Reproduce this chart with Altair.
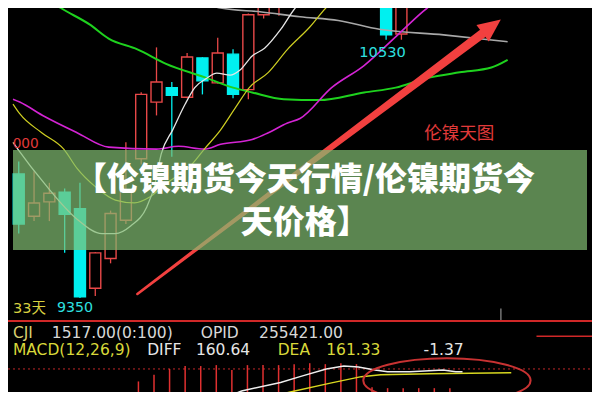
import altair as alt
import pandas as pd

# ---------------- data ----------------
# candles (index, open, close, high, low)
c_idx = list(range(26))
c_open = [9916, 9723, 9789, 9833, 9758, 9394, 9530, 9705, 9986, 10245, 10311, 10267, 10447,
          10333, 10464, 10302, 10644, 10700, 10720, 10830, 10760, 10900, 10820, 10860, 10750, 10556]
c_close = [9688, 9784, 9828, 9732, 9355, 9556, 9736, 9842, 10280, 10337, 10276, 10451, 10342,
           10469, 10280, 10644, 10760, 10800, 10830, 10760, 10900, 10820, 10860, 10750, 10552, 10700]
c_high = [9973, 9929, 9876, 9850, 9876, 9560, 9749, 10061, 10290, 10495, 10337, 10469, 10450,
          10539, 10486, 10650, 10790, 10830, 10860, 10870, 10920, 10940, 10900, 10890, 10780, 10730]
c_low = [9644, 9701, 9701, 9556, 9350, 9359, 9508, 9688, 9960, 10184, 9995, 10262, 10280,
         10330, 10263, 10258, 10627, 10640, 10700, 10730, 10740, 10790, 10780, 10700, 10530, 10530]

# moving average lines (index, price)
gray_i = [10.875, 13.19, 15.875, 18.375, 20.875, 23.56, 27.75, 31.94]
gray_p = [10719, 10675, 10657, 10635, 10618, 10578, 10552, 10521]
green_i = [1.81, 2.75, 4.625, 5.875, 7.75, 9.625, 12.125, 14, 15.25, 17.31, 19.625, 22.56, 24.625,
           26.69, 28.81, 30.875, 31.94]
green_p = [10719, 10675, 10600, 10535, 10486, 10420, 10359, 10311, 10289, 10258, 10254, 10289,
           10311, 10355, 10381, 10403, 10438]
white_i = [-0.375, -0.0625, 1.6875, 3.81, 5.44, 6.31, 7.31, 8.375, 8.875, 9.31, 10.06, 10.875,
           11.5, 12.31, 12.94, 13.81, 14.44, 15.25, 16.06, 17.125, 18.06, 18.69]
white_p = [10061, 10030, 9872, 9710, 9644, 9644, 9679, 9767, 9863, 10008, 10118, 10236, 10311,
           10355, 10377, 10368, 10390, 10456, 10491, 10578, 10675, 10719]
yellow_i = [-0.375, 0.0625, 1.5, 2.94, 3.81, 5.06, 6.31, 7.56, 8.56, 9.625, 11.31, 12.125, 13.19,
            14.19, 15.06, 16.31, 17.56, 19, 20.06, 20.56]
yellow_p = [10236, 10192, 10105, 10030, 9942, 9855, 9797, 9784, 9811, 9872, 9960, 10030, 10118,
            10223, 10311, 10381, 10486, 10587, 10675, 10710]
mag_i = [-0.375, 0.0625, 1.6875, 3.81, 5.875, 9, 10.44, 12.125, 13.19, 15.25, 16.31, 17.56, 18.375,
         20.44, 22.56, 24.625, 26.69, 27.125]
mag_p = [10258, 10245, 10179, 10105, 10039, 10030, 10043, 10030, 10052, 10074, 10105, 10149, 10170,
         10311, 10412, 10543, 10675, 10697]

# arrow annotation
arrow_i = [7.75, 19.0, 30.25]
arrow_p = [9368, 9964, 10556]
arrow_w = [2.5, 5.5, 9]
head_i = [30.9]
head_p = [10591]

# MACD panel
hist_i = list(range(8, 29))
hist_top = [130, 151, 169, 178, 178, 181, 166, 181, 181, 181, 184, 187, 184, 187, 184,
            112, 109, 109, 109, 109, 109]
diff_i = [13.69, 14.625, 17.125, 18.375, 20.06, 21.19, 22.125, 23.19, 24, 25.44, 27.56, 28.375, 28.81]
diff_v = [82, 100, 127, 145, 169, 178, 175, 166, 160, 160, 166, 160, 160]
dea_i = [15.25, 17.75, 20.25, 22.31, 23.56, 26.69, 31.94]
dea_v = [67, 97, 124, 145, 151, 154, 157]

title_lines = ["【伦镍期货今天行情/伦镍期货今", "天价格】"]

# ---------------- styling ----------------
W, H1, H2 = 584, 312, 72
RED = "#e84848"
CYAN = "#00f0f0"
ARROW = "#f2403f"
XDOM = [-0.375, 37.125]
PDOM = [9249, 10675]
MDOM = [97, 322]

xs = alt.Scale(domain=XDOM, nice=False, zero=False)
ps = alt.Scale(domain=PDOM, nice=False, zero=False)
ms = alt.Scale(domain=MDOM, nice=False, zero=False)

X = lambda f: alt.X(f, type="quantitative", scale=xs, axis=None)
YP = lambda f: alt.Y(f, type="quantitative", scale=ps, axis=None)
YM = lambda f: alt.Y(f, type="quantitative", scale=ms, axis=None)

# ---------------- main panel ----------------
cdf = pd.DataFrame({"i": c_idx, "o": c_open, "c": c_close, "h": c_high, "l": c_low})
cdf["dir"] = ["up" if c > o else "down" for o, c in zip(c_open, c_close)]

wick = alt.Chart(cdf).mark_rule(strokeWidth=1.3, clip=True).encode(
    x=X("i"), y=YP("l"), y2="h",
    color=alt.Color("dir:N", scale=alt.Scale(domain=["up", "down"], range=[RED, CYAN]), legend=None),
)
body = alt.Chart(cdf).mark_bar(size=11, strokeWidth=1.4, clip=True).encode(
    x=X("i"), y=YP("o"), y2="c",
    fill=alt.Fill("dir:N", scale=alt.Scale(domain=["up", "down"], range=["#000000", CYAN]), legend=None),
    stroke=alt.Stroke("dir:N", scale=alt.Scale(domain=["up", "down"], range=[RED, CYAN]), legend=None),
)

rows = []
for name, ii, pp, col, sw in [
    ("gray", gray_i, gray_p, "#a8a8a8", 1.6),
    ("green", green_i, green_p, "#1ed21e", 2.0),
    ("magenta", mag_i, mag_p, "#d424d4", 1.6),
    ("yellow", yellow_i, yellow_p, "#cfcf22", 1.2),
    ("white", white_i, white_p, "#e6e6e6", 1.3),
]:
    for k, (a, b) in enumerate(zip(ii, pp)):
        rows.append({"s": name, "i": a, "p": b, "k": k, "col": col, "sw": sw})
ldf = pd.DataFrame(rows)
lines = alt.Chart(ldf).mark_line(interpolate="monotone", clip=True).encode(
    x=X("i"), y=YP("p"), detail="s:N",
    color=alt.Color("col:N", scale=None),
    strokeWidth=alt.StrokeWidth("sw:Q", scale=None),
    order="k:Q",
)

adf = pd.DataFrame({"i": arrow_i, "p": arrow_p, "w": arrow_w, "k": [0, 1, 2]})
shaft = alt.Chart(adf).mark_trail(color=ARROW, clip=True).encode(
    x=X("i"), y=YP("p"), size=alt.Size("w:Q", scale=None), order="k:Q"
)
TRI = "M0,-1L-0.9,1L0.9,1Z"
head = alt.Chart(pd.DataFrame({"i": head_i, "p": head_p})).mark_point(
    shape=TRI, filled=True, angle=53, size=520, color=ARROW, opacity=1, clip=True
).encode(x=X("i"), y=YP("p"))

tick = alt.Chart(pd.DataFrame({"i": [31.5], "p": [9302], "p2": [9249]})).mark_rule(
    color="#909090", strokeWidth=1.2, clip=True).encode(x=X("i"), y=YP("p"), y2="p2")


def label(i, p, text, color, size, align="left", font="DejaVu Sans", weight="normal", y=YP):
    return alt.Chart(pd.DataFrame({"i": [i], "p": [p], "t": [text]})).mark_text(
        align=align, baseline="middle", color=color, fontSize=size, font=font,
        fontWeight=weight, clip=True,
    ).encode(x=X("i"), y=y("p"), text="t:N")


CJK = "Noto Sans CJK SC"
ann = [
    label(22.25, 10469, "10530", "#2ee0e0", 14.6),
    label(26.5, 10100, "伦镍天图", "#e03a3a", 17.5, font=CJK),
    label(1.31, 10052, "000", "#e03a3a", 13.7, align="right"),
    label(-0.375, 9297, "33天", "#d8d040", 14.5, font="DejaVu Sans, Noto Sans CJK SC"),
    label(2.5, 9302, "9350", "#2ee0e0", 14.2),
]

banner = alt.Chart(pd.DataFrame({"x1": [XDOM[0]], "x2": [XDOM[1]], "y1": [9569], "y2": [10026]})).mark_rect(
    color="#81be72", opacity=0.7, clip=True
).encode(x=X("x1"), x2="x2", y=YP("y1"), y2="y2")

btitle = [
    label(18.69, 9890, title_lines[0], "#ffffff", 32, align="center", font=CJK, weight=900),
    label(18.69, 9692, title_lines[1], "#ffffff", 32, align="center", font=CJK, weight=900),
]

main = alt.layer(wick, body, lines, shaft, head, tick, *ann, banner, *btitle).properties(width=W, height=H1)

# ---------------- MACD panel ----------------
def hline(v, i1, i2, color, width, dash=None):
    props = dict(color=color, strokeWidth=width, clip=True)
    if dash:
        props["strokeDash"] = dash
    return alt.Chart(pd.DataFrame({"i": [i1], "i2": [i2], "v": [v]})).mark_rule(**props).encode(
        x=X("i"), x2="i2", y=YM("v"))


top_line = hline(319, XDOM[0], XDOM[1], "#d02828", 2)
dotted = hline(169, XDOM[0], XDOM[1], "#c02828", 1, dash=[2, 3])
short_red = hline(271, 33.56, XDOM[1], "#d02828", 1.6)

hdf = pd.DataFrame({"i": hist_i, "v": hist_top, "base": [80] * len(hist_i)})
hist = alt.Chart(hdf).mark_rule(color="#e03030", strokeWidth=1.5, clip=True).encode(
    x=X("i"), y=YM("base"), y2="v")

mrows = []
for name, ii, vv, col in [("dea", dea_i, dea_v, "#d8d820"), ("diff", diff_i, diff_v, "#eeeeee")]:
    for k, (a, b) in enumerate(zip(ii, vv)):
        mrows.append({"s": name, "i": a, "v": b, "k": k, "col": col})
mlines = alt.Chart(pd.DataFrame(mrows)).mark_line(strokeWidth=1.5, clip=True).encode(
    x=X("i"), y=YM("v"), detail="s:N", color=alt.Color("col:N", scale=None), order="k:Q")

ELL = ("M-1,0C-1,-0.146,-0.552,-0.265,0,-0.265C0.552,-0.265,1,-0.146,1,0"
       "C1,0.146,0.552,0.265,0,0.265C-0.552,0.265,-1,0.146,-1,0Z")
ellipse = alt.Chart(pd.DataFrame({"i": [27.81], "v": [133]})).mark_point(
    shape=ELL, filled=False, size=28000, color="#c83232", strokeWidth=2, opacity=1, clip=True
).encode(x=X("i"), y=YM("v"))

F = 15.5
mtext = [
    label(-0.06, 280, "CJI", "#d8d070", F, y=YM),
    label(2.44, 280, "1517.00(0:100)", "#d8d8d8", F, y=YM),
    label(12.0, 280, "OPID", "#d8d8d8", F, y=YM),
    label(15.75, 280, "255421.00", "#d8d8d8", F, y=YM),
    label(-0.06, 229, "MACD(12,26,9)", "#d8d83a", F, y=YM),
    label(8.56, 229, "DIFF", "#e6e6e6", F, y=YM),
    label(11.69, 229, "160.64", "#e6e6e6", F, y=YM),
    label(16.94, 229, "DEA", "#d8d83a", F, y=YM),
    label(20.06, 229, "161.33", "#d8d83a", F, y=YM),
    label(26.31, 229, "-1.37", "#e6e6e6", F, y=YM),
]

bottom = alt.layer(dotted, hist, mlines, ellipse, top_line, short_red, *mtext).properties(width=W, height=H2)

chart = alt.vconcat(main, bottom, spacing=0).properties(padding=0).configure(
    background="#000000"
).configure_view(strokeWidth=0).configure_concat(spacing=0)

chart.save("out.html", embed_options={"renderer": "svg", "actions": False})
